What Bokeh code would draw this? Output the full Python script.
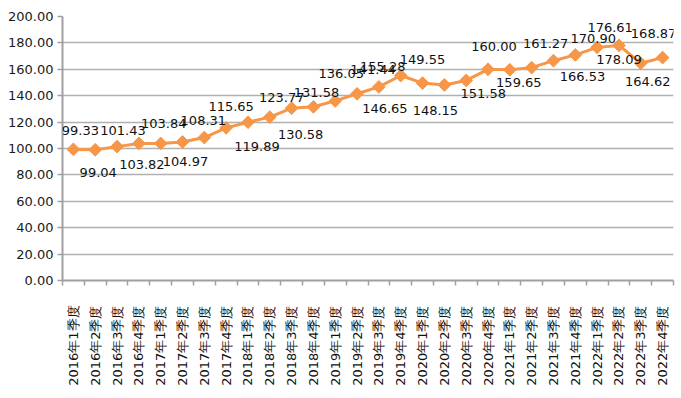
import math
from bokeh.plotting import figure
from bokeh.models import ColumnDataSource, FixedTicker, NumeralTickFormatter, Range1d, LabelSet
from bokeh.core.properties import value
from bokeh.embed import file_html
from bokeh.resources import INLINE

quarters = ["2016年1季度", "2016年2季度", "2016年3季度", "2016年4季度",
            "2017年1季度", "2017年2季度", "2017年3季度", "2017年4季度",
            "2018年1季度", "2018年2季度", "2018年3季度", "2018年4季度",
            "2019年1季度", "2019年2季度", "2019年3季度", "2019年4季度",
            "2020年1季度", "2020年2季度", "2020年3季度", "2020年4季度",
            "2021年1季度", "2021年2季度", "2021年3季度", "2021年4季度",
            "2022年1季度", "2022年2季度", "2022年3季度", "2022年4季度"]
values = [99.33, 99.04, 101.43, 103.82, 103.84, 104.97, 108.31, 115.65,
          119.89, 123.77, 130.58, 131.58, 136.05, 141.44, 146.65, 155.28,
          149.55, 148.15, 151.58, 160.00, 159.65, 161.27, 166.53, 170.90,
          176.61, 178.09, 164.62, 168.87]
y_ticks = [0, 20, 40, 60, 80, 100, 120, 140, 160, 180, 200]

# label placement (screen offsets in px, positive dy = downward), style only
label_dx = [7, 3, 6, 3, 3, 3, -1, 5, 9, 12, 9, 3, 6, 16, 6, -18,
            0, -9, 17, 6, 9, 14, 29, 18, 13, 0, 7, -9]
label_dy = [-19, 23, -16, 21, -20, 20, -17, -21, 24, -20, 26, -14, -27, -24, 22, -9,
            -24, 26, 13, -23, 13, -24, 16, -16, -20, 14, 18, -24]

n = len(quarters)
xs = [i + 0.5 for i in range(n)]
src = ColumnDataSource(dict(
    x=xs, y=values, label=[f"{v:.2f}" for v in values],
    dx=label_dx, dy=[-d for d in label_dy]))

p = figure(width=677, height=394, output_backend="svg", toolbar_location=None,
           x_range=Range1d(0, n), y_range=Range1d(0, 200),
           min_border_left=62, min_border_right=4, min_border_top=16,
           min_border_bottom=114)
p.outline_line_color = None
p.background_fill_color = "white"
p.border_fill_color = "white"

p.line("x", "y", source=src, line_color="#F79646", line_width=3)
p.scatter("x", "y", source=src, marker="square", angle=math.pi / 4, size=9,
          fill_color="#F79646", line_color="#F79646")
labels = LabelSet(x="x", y="y", text="label", source=src, x_offset="dx", y_offset="dy",
                  text_align="center", text_baseline="middle",
                  text_font=value("DejaVu Sans"),
                  text_font_size=value("13px"), text_color=value("#111111"))
p.add_layout(labels)

# y axis
p.yaxis.ticker = FixedTicker(ticks=y_ticks)
p.yaxis.formatter = NumeralTickFormatter(format="0.00")
p.yaxis.axis_line_color = "#a0a0a0"
p.yaxis.axis_line_width = 2
p.yaxis.major_tick_line_color = "#a0a0a0"
p.yaxis.major_tick_line_width = 1.5
p.yaxis.major_tick_out = 5
p.yaxis.major_tick_in = 0
p.yaxis.minor_tick_line_color = None
p.yaxis.major_label_standoff = 4
p.yaxis.major_label_text_font = "DejaVu Sans"
p.yaxis.major_label_text_font_size = "13px"
p.yaxis.major_label_text_color = "#1a1a1a"

# x axis
p.xaxis.ticker = FixedTicker(ticks=xs, minor_ticks=list(range(n + 1)))
p.xaxis.major_label_overrides = {x: q for x, q in zip(xs, quarters)}
p.xaxis.major_label_orientation = math.pi / 2
p.xaxis.axis_line_color = "#a0a0a0"
p.xaxis.axis_line_width = 2
p.xaxis.major_tick_line_color = None
p.xaxis.minor_tick_line_color = "#a0a0a0"
p.xaxis.minor_tick_line_width = 1.5
p.xaxis.minor_tick_out = 5
p.xaxis.minor_tick_in = 0
p.xaxis.major_label_standoff = 19
p.xaxis.major_label_text_font = "DejaVu Sans"
p.xaxis.major_label_text_font_size = "13px"
p.xaxis.major_label_text_color = "#111111"

p.xgrid.grid_line_color = None
p.ygrid.ticker = FixedTicker(ticks=y_ticks)
p.ygrid.grid_line_color = "#b0b0b0"
p.ygrid.grid_line_width = 1.5

open("out.html", "w").write(file_html(p, INLINE))
